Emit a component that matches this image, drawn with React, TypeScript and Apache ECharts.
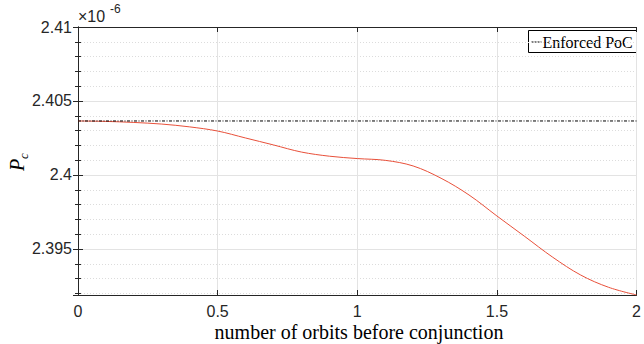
import React, { useEffect, useRef } from "react";
import * as echarts from "echarts";

// Orbits before conjunction (x) and collision probability Pc (units of 1e-6)
const orbits = [0, 0.1, 0.2, 0.3, 0.4, 0.5, 0.6, 0.7, 0.8, 0.9, 1.0, 1.1, 1.2, 1.3, 1.4, 1.5, 1.6, 1.7, 1.8, 1.9, 2.0];
const pcValues = [
  2.40365, 2.40362, 2.40355, 2.40344, 2.40325, 2.40297, 2.40250, 2.40203, 2.40155, 2.40127,
  2.40111, 2.40099, 2.40061, 2.39978, 2.39865, 2.39723, 2.39584, 2.39444, 2.39324, 2.39241, 2.39189,
];
const enforcedPoc = 2.40365;
const xTickValues = [0, 0.5, 1, 1.5, 2];
const legendLabel = "Enforced PoC";
const xTitle = "number of orbits before conjunction";

const AXIS = "#262626";
const SANS = "Liberation Sans";
const SERIF = "Liberation Serif";

export default function App() {
  const ref = useRef<HTMLDivElement>(null);

  useEffect(() => {
    document.body.style.margin = "0";
    if (!ref.current) return;
    const chart = echarts.init(ref.current, null, { renderer: "svg" });

    const yMin = pcValues[pcValues.length - 1];
    const yMax = 2.41;

    const yCommon = {
      type: "value" as const,
      min: yMin,
      max: yMax,
      minInterval: 0.005,
      maxInterval: 0.005,
      splitNumber: 4,
      axisLine: { show: true, lineStyle: { color: AXIS, width: 1 } },
      axisTick: { show: true, inside: true, length: 5, lineStyle: { color: AXIS } },
      minorTick: { show: true, splitNumber: 5, length: 3, lineStyle: { color: AXIS } },
    };

    const xCommon = {
      type: "value" as const,
      min: xTickValues[0],
      max: xTickValues[xTickValues.length - 1],
      interval: 0.5,
      axisLine: { show: true, onZero: false, lineStyle: { color: AXIS, width: 1 } },
      axisTick: { show: true, inside: true, length: 5, lineStyle: { color: AXIS } },
    };

    chart.setOption({
      animation: false,
      backgroundColor: "#ffffff",
      grid: { left: 78, right: 4, top: 27, bottom: 49, containLabel: false },
      xAxis: [
        {
          ...xCommon,
          position: "bottom",
          axisLabel: {
            show: true,
            margin: 8,
            fontFamily: SANS,
            fontSize: 16,
            color: AXIS,
            formatter: (v: number) => String(v),
          },
          splitLine: { show: true, lineStyle: { color: "#e3e3e3", width: 1 } },
        },
        {
          ...xCommon,
          position: "top",
          axisLabel: { show: false },
          splitLine: { show: false },
        },
      ],
      yAxis: [
        {
          ...yCommon,
          position: "left",
          axisLabel: {
            show: true,
            showMinLabel: false,
            margin: 6,
            fontFamily: SANS,
            fontSize: 16,
            color: AXIS,
            formatter: (v: number) => String(+v.toFixed(3)),
          },
          splitLine: { show: true, lineStyle: { color: "#e3e3e3", width: 1 } },
          minorSplitLine: { show: true, lineStyle: { color: "#dcdcdc", width: 1, type: [1, 2] } },
        },
        {
          ...yCommon,
          position: "right",
          axisLabel: { show: false },
          splitLine: { show: false },
          minorSplitLine: { show: false },
        },
      ],
      graphic: [
        // x axis title
        {
          type: "text",
          x: 359,
          y: 332,
          style: {
            text: xTitle,
            fontFamily: SERIF,
            fontSize: 20,
            fill: "#000000",
            textAlign: "center",
            textVerticalAlign: "middle",
          },
        },
        // exponent marker above the y axis
        {
          type: "text",
          left: 78,
          top: 8,
          style: { text: "\u00d710", fontFamily: SANS, fontSize: 16, fill: AXIS },
        },
        {
          type: "text",
          left: 110,
          top: 3,
          style: { text: "-6", fontFamily: SANS, fontSize: 12, fill: AXIS },
        },
        // y axis title P_c, rotated
        {
          type: "group",
          x: 27,
          y: 171,
          rotation: Math.PI / 2,
          children: [
            {
              type: "text",
              x: 0,
              y: 0,
              style: {
                text: "P",
                fontFamily: SERIF,
                fontStyle: "italic",
                fontSize: 20,
                fill: "#000000",
                textVerticalAlign: "bottom",
              },
            },
            {
              type: "text",
              x: 12,
              y: 3,
              style: {
                text: "c",
                fontFamily: SERIF,
                fontStyle: "italic",
                fontSize: 13,
                fill: "#000000",
                textVerticalAlign: "bottom",
              },
            },
          ],
        },
        // legend box
        {
          type: "group",
          right: 7,
          top: 30,
          children: [
            {
              type: "rect",
              shape: { x: 0, y: 0, width: 108, height: 22 },
              style: { fill: "#ffffff", stroke: "#000000", lineWidth: 1 },
            },
            {
              type: "line",
              shape: { x1: 3, y1: 11.5, x2: 13, y2: 11.5 },
              style: { stroke: "#000000", lineWidth: 1, lineDash: [2, 1] },
            },
            {
              type: "text",
              x: 14,
              y: 11.5,
              style: {
                text: legendLabel,
                fontFamily: SERIF,
                fontSize: 16,
                fill: "#000000",
                textVerticalAlign: "middle",
              },
            },
          ],
        },
      ],
      series: [
        {
          name: legendLabel,
          type: "line",
          xAxisIndex: 0,
          yAxisIndex: 0,
          showSymbol: false,
          symbol: "none",
          data: [
            [xTickValues[0], enforcedPoc],
            [xTickValues[xTickValues.length - 1], enforcedPoc],
          ],
          lineStyle: { color: "#000000", width: 1, type: [3, 1.5, 1, 1.5] },
          z: 3,
        },
        {
          name: "Pc",
          type: "line",
          xAxisIndex: 0,
          yAxisIndex: 0,
          showSymbol: false,
          symbol: "none",
          smooth: 0.35,
          data: orbits.map((x, i) => [x, pcValues[i]]),
          lineStyle: { color: "#e8503a", width: 1 },
          z: 2,
        },
      ],
    });

    return () => chart.dispose();
  }, []);

  return <div ref={ref} style={{ width: 644, height: 344 }} />;
}
